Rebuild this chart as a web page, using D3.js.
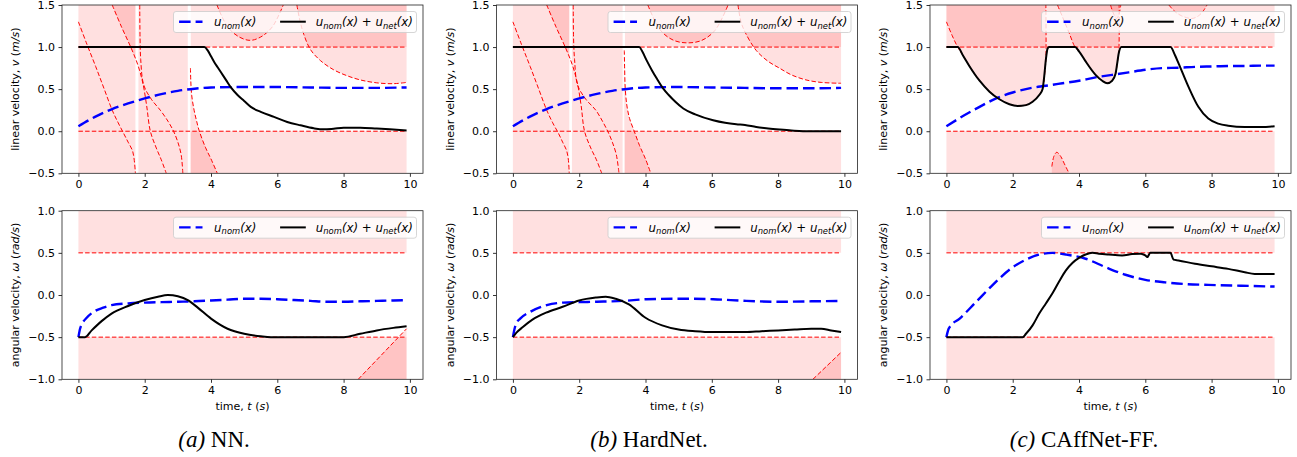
<!DOCTYPE html>
<html><head><meta charset="utf-8">
<script src="https://cdn.jsdelivr.net/npm/d3@7"></script>
<style>
body{margin:0;background:#fff}
svg text{font-family:"DejaVu Sans",sans-serif;fill:#000}
</style>
</head><body>
<svg id="fig" width="1297" height="457"></svg>
<script>
// ---------------- data ----------------
const T_DOMAIN = [-0.495, 10.395];
const T_END = 9.9;
const TIME_TICKS = [0, 2, 4, 6, 8, 10];
const V_TICKS = [-0.5, 0, 0.5, 1, 1.5];
const W_TICKS = [-1, -0.5, 0, 0.5, 1];
const V_BOUNDS = [0, 1];
const W_BOUNDS = [-0.5, 0.5];
const V_RANGE = [-0.5, 1.5];
const W_RANGE = [-1, 1];

// (a) NN — linear velocity
const a_vNom_t = [0,0.5,1,1.5,2,2.5,3,3.5,4,5,6,7,8,9,9.9];
const a_vNom   = [0.06,0.17,0.26,0.33,0.39,0.44,0.48,0.505,0.52,0.525,0.525,0.52,0.515,0.515,0.52];
const a_vNet_t = [0,3.8,3.9,4.0,4.1,4.2,4.3,4.45,4.6,4.8,5.0,5.2,5.5,5.9,6.3,6.7,7.1,7.4,7.7,8.0,8.5,9.0,9.5,9.9];
const a_vNet   = [1,1,0.96,0.89,0.82,0.76,0.7,0.61,0.52,0.43,0.36,0.29,0.23,0.17,0.11,0.07,0.035,0.022,0.03,0.042,0.042,0.032,0.02,0.01];
const a_strips = [[0,1.72],[1.81,3.3]];
const a_boundStart = 3.39;
const a_c1_t = [0,0.26,0.52,0.77,1.02,1.2,1.37,1.5,1.63,1.68,1.72];
const a_c1_v = [1.3,1.03,0.77,0.51,0.25,0.1,-0.03,-0.13,-0.23,-0.33,-0.5];
const a_c2_t = [1.02,1.3,1.6,1.8,1.95,2.06,2.17,2.35,2.5,2.65];
const a_c2_v = [1.5,1.24,0.98,0.78,0.56,0.3,0.0,-0.2,-0.34,-0.5];
const a_c3_t = [1.85,1.86,1.88,1.97,2.2,2.47,2.7,2.87,3.0,3.1,3.15];
const a_c3_v = [1.5,1.1,0.85,0.55,0.38,0.25,0.12,0.0,-0.13,-0.28,-0.5];
const a_c4_t = [3.38,3.39,3.42,3.49,3.56,3.64,3.83,4.0,4.19];
const a_c4_v = [0.75,0.6,0.42,0.25,0.13,0.01,-0.19,-0.33,-0.5];
const a_c5_t = [4.18,4.5,4.85,5.18,5.5,5.85,6.18];
const a_c5_v = [1.5,1.24,1.12,1.08,1.12,1.24,1.5];
const a_c6_t = [6.59,6.68,6.8,7.0,7.3,7.7,8.1,8.5,9.0,9.5,9.9];
const a_c6_v = [1.5,1.32,1.15,0.97,0.84,0.73,0.66,0.61,0.575,0.565,0.58];
// (a) NN — angular velocity
const a_wNom_t = [0,0.05,0.1,0.25,0.5,0.75,1,1.5,2,2.5,3,3.5,4,4.5,5,5.5,6,6.5,7,7.5,8,8.5,9,9.5,9.9];
const a_wNom   = [-0.5,-0.4,-0.35,-0.27,-0.19,-0.15,-0.12,-0.1,-0.09,-0.085,-0.08,-0.075,-0.065,-0.055,-0.045,-0.045,-0.05,-0.06,-0.07,-0.08,-0.08,-0.075,-0.07,-0.065,-0.06];
const a_wNet_t = [0,0.2,0.4,0.7,1.0,1.5,2.0,2.4,2.7,3.0,3.3,3.6,4.0,4.5,5.0,5.5,5.8,8.0,8.5,9.0,9.5,9.9];
const a_wNet   = [-0.5,-0.5,-0.42,-0.31,-0.22,-0.13,-0.06,-0.02,0,-0.015,-0.06,-0.15,-0.28,-0.4,-0.46,-0.49,-0.5,-0.5,-0.46,-0.42,-0.39,-0.37];
const a_c7_t = [8.44,9.9];
const a_c7_v = [-1.0,-0.4];

// (b) HardNet — linear velocity
const b_vNom_t = [0,0.5,1,1.5,2,2.5,3,3.5,4,5,6,7,8,9,9.9];
const b_vNom   = [0.06,0.17,0.26,0.33,0.39,0.44,0.48,0.505,0.52,0.525,0.52,0.515,0.51,0.51,0.515];
const b_vNet_t = [0,3.81,3.9,4.03,4.2,4.35,4.53,4.7,4.9,5.14,5.5,6.04,6.4,6.74,7.0,7.34,7.7,8.04,8.4,8.75,9.9];
const b_vNet   = [1,1,0.95,0.845,0.72,0.62,0.51,0.43,0.35,0.27,0.2,0.13,0.1,0.083,0.075,0.05,0.033,0.02,0.008,0,0];
const b_strips = [[0,1.70],[1.78,3.31]];
const b_boundStart = 3.38;
const b_c1_t = [0,0.26,0.52,0.77,1.02,1.2,1.38,1.5,1.62,1.67,1.70];
const b_c1_v = [1.3,1.03,0.77,0.51,0.25,0.1,-0.03,-0.13,-0.23,-0.33,-0.5];
const b_c2_t = [1.02,1.3,1.6,1.8,1.95,2.06,2.16,2.35,2.52,2.68];
const b_c2_v = [1.5,1.24,0.98,0.78,0.56,0.3,0.0,-0.2,-0.34,-0.5];
const b_c3_t = [1.82,1.83,1.86,1.95,2.2,2.5,2.7,2.86,3.0,3.12,3.2];
const b_c3_v = [1.5,1.1,0.85,0.55,0.38,0.25,0.12,0.0,-0.13,-0.28,-0.5];
const b_c4_t = [3.36,3.37,3.39,3.44,3.52,3.66,3.82,4.0,4.16];
const b_c4_v = [0.96,0.75,0.5,0.3,0.15,0.0,-0.17,-0.33,-0.5];
const b_c5_t = [4.07,4.45,4.85,5.28,5.7,6.1,6.49];
const b_c5_v = [1.5,1.2,1.08,1.05,1.08,1.2,1.5];
const b_c6_t = [6.79,6.88,7.0,7.34,7.7,8.04,8.4,8.84,9.3,9.9];
const b_c6_v = [1.5,1.3,1.18,0.96,0.83,0.75,0.67,0.61,0.58,0.57];
// (b) HardNet — angular velocity
const b_wNom_t = [0,0.05,0.1,0.22,0.52,1.02,1.52,2,2.53,3.33,4.03,5.04,6.04,7.04,8.04,9,9.9];
const b_wNom   = [-0.5,-0.4,-0.34,-0.28,-0.2,-0.12,-0.09,-0.085,-0.08,-0.07,-0.05,-0.044,-0.05,-0.07,-0.08,-0.075,-0.07];
const b_wNet_t = [0,0.1,0.3,0.6,1.0,1.5,2.0,2.5,2.8,3.1,3.5,4.0,4.5,5.0,5.5,6.0,7.0,7.5,8.0,8.5,9.0,9.3,9.6,9.9];
const b_wNet   = [-0.5,-0.45,-0.38,-0.29,-0.21,-0.14,-0.065,-0.03,-0.02,-0.045,-0.11,-0.27,-0.36,-0.41,-0.43,-0.44,-0.44,-0.43,-0.42,-0.41,-0.4,-0.4,-0.42,-0.44];
const b_c7_t = [9.05,9.9];
const b_c7_v = [-1.0,-0.68];

// (c) CAffNet-FF — linear velocity
const c_vNom_t = [0,0.5,1,1.5,2,2.5,3,3.5,4,4.5,5,5.5,6,6.5,7,7.5,8,8.5,9,9.5,9.9];
const c_vNom   = [0.06,0.18,0.29,0.39,0.46,0.51,0.54,0.57,0.6,0.64,0.67,0.7,0.73,0.75,0.755,0.765,0.77,0.775,0.775,0.78,0.78];
const c_vNet_t = [0,0.34,0.5,0.7,1.0,1.3,1.6,1.9,2.15,2.4,2.6,2.8,2.9,2.95,3.0,3.05,3.1,3.88,4.0,4.2,4.5,4.7,4.85,5.0,5.1,5.15,5.2,5.28,6.76,6.9,7.0,7.3,7.6,7.9,8.2,8.5,9.0,9.5,9.9];
const c_vNet   = [1,1,0.9,0.77,0.6,0.47,0.38,0.32,0.3,0.31,0.35,0.43,0.5,0.65,0.85,0.98,1,1,0.95,0.83,0.67,0.6,0.57,0.6,0.68,0.8,0.93,1,1,0.9,0.81,0.53,0.29,0.15,0.09,0.065,0.05,0.05,0.06];
const c_d1_t = [0,0.17,0.34,0.5,0.7,1.0,1.3,1.6,1.9,2.15,2.4,2.6,2.8,2.9,2.97,3.0,3.0];
const c_d1_v = [1.3,1.14,1.0,0.9,0.77,0.6,0.47,0.38,0.32,0.3,0.31,0.35,0.43,0.5,0.7,0.85,1.5];
const c_d2_t = [3.35,3.5,3.7,3.88,4.0,4.2,4.5,4.7,4.85,5.0,5.1,5.15,5.2,5.21];
const c_d2_v = [1.5,1.36,1.17,1.0,0.95,0.83,0.67,0.6,0.57,0.6,0.68,0.8,0.95,1.5];
const c_d3_t = [3.18,3.25,3.33,3.45,3.55,3.7];
const c_d3_v = [-0.42,-0.29,-0.25,-0.3,-0.38,-0.5];
const c_e1_t = [6.71,6.9,7.1,7.41,7.6,7.75,7.86];
const c_e1_v = [1.5,1.42,1.37,1.34,1.37,1.43,1.5];
const c_e2_t = [4.95,5.05,5.13,5.2,5.26];
const c_e2_v = [1.5,1.39,1.34,1.38,1.5];
// (c) CAffNet-FF — angular velocity
const c_wNom_t = [0,0.05,0.1,0.4,0.9,1.4,1.9,2.4,2.8,3.2,3.6,4.2,4.8,5.4,6.0,6.6,7.2,7.9,8.9,9.9];
const c_wNom   = [-0.5,-0.42,-0.38,-0.28,-0.08,0.12,0.3,0.42,0.48,0.5,0.48,0.43,0.33,0.24,0.18,0.15,0.13,0.12,0.11,0.1];
const c_wNet_t = [0,2.3,2.4,2.6,2.8,3.0,3.2,3.4,3.6,3.8,4.0,4.2,4.4,4.6,4.9,5.3,5.6,5.85,6.0,6.06,6.15,6.76,6.85,7.0,7.5,8.0,8.5,9.0,9.3,9.9];
const c_wNet   = [-0.5,-0.5,-0.46,-0.36,-0.22,-0.1,0.02,0.16,0.29,0.38,0.44,0.48,0.5,0.49,0.48,0.47,0.485,0.49,0.47,0.45,0.5,0.5,0.42,0.41,0.37,0.34,0.31,0.27,0.25,0.25];

const captions = [["(a)", " NN."], ["(b)", " HardNet."], ["(c)", " CAffNet-FF."]];

// ---------------- helpers ----------------
const pts = (ts, vs) => ts.map((t, i) => ({t, v: vs[i]}));
const band = (t0, t1, lo, hi) => [{t:t0, lo, hi}, {t:t1, lo, hi}];
const above = (ts, vs, top) => ts.map((t, i) => ({t, lo: vs[i], hi: top}));
const below = (ts, vs, bot) => ts.map((t, i) => ({t, lo: bot, hi: vs[i]}));
const hline = v => pts([0, T_END], [v, v]);

const fig = d3.select('#fig');
const defs = fig.append('defs');
let clipN = 0;
function clipRect(x0, y0, x1, y1) {
  const id = 'clip' + (clipN++);
  defs.append('clipPath').attr('id', id).append('rect')
    .attr('x', x0).attr('y', y0).attr('width', x1 - x0).attr('height', y1 - y0);
  return `url(#${id})`;
}
function rich(sel, parts) {
  parts.forEach(([s, it]) => { const ts = sel.append('tspan').text(s); if (it) ts.attr('font-style', 'italic'); });
}
function uTerm(t, sub) {
  t.append('tspan').attr('font-style', 'italic').text('u');
  t.append('tspan').attr('font-style', 'italic').attr('font-size', '8.4px').attr('dy', 2.7).text(sub);
  t.append('tspan').attr('font-style', 'italic').attr('dy', -2.7).text('(x)');
}

function drawAxes(o) {
  const x = d3.scaleLinear().domain(T_DOMAIN).range([o.x0, o.x1]);
  const y = d3.scaleLinear().domain(o.yDomain).range([o.y1, o.y0]);
  const g = fig.append('g');
  const plot = g.append('g').attr('clip-path', clipRect(o.x0, o.y0, o.x1, o.y1));
  const curve = d3.curveCatmullRom.alpha(0.5);
  const area = d3.area().x(d => x(d.t)).y0(d => y(d.lo)).y1(d => y(d.hi)).curve(curve);
  o.fills.forEach(f => {
    const p = plot.append('path').attr('d', area(f.pts))
      .attr('fill', 'rgb(255,0,0)').attr('fill-opacity', 0.12).attr('stroke', 'none');
    if (f.tRange) p.attr('clip-path', clipRect(x(f.tRange[0]), o.y0, x(f.tRange[1]), o.y1));
  });
  const dline = d3.line().x(d => x(d.t)).y(d => y(d.v)).curve(curve);
  o.dashes.forEach(d => {
    plot.append('path').attr('d', dline(d)).attr('fill', 'none')
      .attr('stroke', '#ff0000').attr('stroke-width', 1).attr('stroke-dasharray', '4.5,2.2');
  });
  const sline = d3.line().x(d => x(d.t)).y(d => y(d.v)).curve(d3.curveMonotoneX);
  plot.append('path').attr('d', sline(o.nom)).attr('fill', 'none')
    .attr('stroke', '#0000ff').attr('stroke-width', 2.4).attr('stroke-dasharray', '11.5,5');
  plot.append('path').attr('d', sline(o.net)).attr('fill', 'none')
    .attr('stroke', '#000').attr('stroke-width', 2).attr('stroke-linejoin', 'round');

  // axes
  const xa = g.append('g').attr('transform', `translate(0,${o.y1})`)
    .call(d3.axisBottom(x).tickValues(TIME_TICKS).tickSize(3.5).tickPadding(3.5).tickFormat(d3.format('d')));
  const ya = g.append('g').attr('transform', `translate(${o.x0},0)`)
    .call(d3.axisLeft(y).tickValues(o.yTicks).tickSize(3.5).tickPadding(3.5).tickFormat(d3.format('.1f')));
  [xa, ya].forEach(a => {
    a.select('.domain').remove();
    a.attr('font-family', '"DejaVu Sans",sans-serif').attr('font-size', 11);
    a.selectAll('line').attr('stroke', '#000').attr('stroke-width', 0.8);
  });
  g.append('rect').attr('x', o.x0).attr('y', o.y0).attr('width', o.x1 - o.x0).attr('height', o.y1 - o.y0)
    .attr('fill', 'none').attr('stroke', '#222').attr('stroke-width', 0.8);

  // y label
  const yl = g.append('text')
    .attr('transform', `translate(${o.x0 - 47},${(o.y0 + o.y1) / 2}) rotate(-90)`)
    .attr('text-anchor', 'middle').attr('dominant-baseline', 'central').attr('font-size', 11);
  rich(yl, o.ylabel);
  if (o.xlabel) {
    const xl = g.append('text').attr('x', (o.x0 + o.x1) / 2).attr('y', o.y1 + 31)
      .attr('text-anchor', 'middle').attr('font-size', 11);
    rich(xl, o.xlabel);
  }

  // legend
  const w = 243, h = 21, lx = o.x1 - 6.5 - w, ly = o.y0 + 6.5;
  g.append('rect').attr('x', lx).attr('y', ly).attr('width', w).attr('height', h).attr('rx', 2.5)
    .attr('fill', '#fff').attr('fill-opacity', 0.8).attr('stroke', '#cccccc').attr('stroke-width', 0.8);
  g.append('line').attr('x1', lx + 5.6).attr('x2', lx + 29).attr('y1', ly + 10.2).attr('y2', ly + 10.2)
    .attr('stroke', '#0000ff').attr('stroke-width', 2.4).attr('stroke-dasharray', '11.5,5');
  const t1 = g.append('text').attr('x', lx + 40.6).attr('y', ly + 14.3).attr('font-size', 11.8);
  uTerm(t1, 'nom');
  g.append('line').attr('x1', lx + 106.6).attr('x2', lx + 132.3).attr('y1', ly + 10.2).attr('y2', ly + 10.2)
    .attr('stroke', '#000').attr('stroke-width', 2);
  const t2 = g.append('text').attr('x', lx + 142.3).attr('y', ly + 14.3).attr('font-size', 11.8);
  uTerm(t2, 'nom'); t2.append('tspan').text(' + '); uTerm(t2, 'net');
}

// ---------------- layout table ----------------
const TOP = [5, 173.3], BOT = [210.7, 379.3];
const cols = [[62, 423], [496.5, 857.5], [930, 1291]];
const capX = [214, 649, 1084];
const V_LABEL = [['linear velocity, ', 0], ['v', 1], [' (', 0], ['m/s', 1], [')', 0]];
const W_LABEL = [['angular velocity, ', 0], ['ω', 1], [' (', 0], ['rad/s', 1], [')', 0]];
const T_LABEL = [['time, ', 0], ['t', 1], [' (', 0], ['s', 1], [')', 0]];

function stripFills(strips, bStart, c2t, c2v, c4t, c4v, c5t, c5v, c6t, c6v) {
  return [
    ...strips.map(s => ({pts: band(s[0], s[1], V_RANGE[0], V_RANGE[1])})),
    {pts: band(bStart, T_END, V_BOUNDS[1], V_RANGE[1])},
    {pts: band(bStart, T_END, V_RANGE[0], V_BOUNDS[0])},
    {pts: above(c2t, c2v, V_RANGE[1]), tRange: [0, strips[0][1]]},
    {pts: below(c4t, c4v, V_RANGE[0])},
    {pts: above(c5t, c5v, V_RANGE[1])},
    {pts: above(c6t, c6v, V_RANGE[1])}
  ];
}
const wFills = extra => [
  {pts: band(0, T_END, W_BOUNDS[1], W_RANGE[1])},
  {pts: band(0, T_END, W_RANGE[0], W_BOUNDS[0])},
  ...extra
];

const topPanels = [
  { fills: stripFills(a_strips, a_boundStart, a_c2_t, a_c2_v, a_c4_t, a_c4_v, a_c5_t, a_c5_v, a_c6_t, a_c6_v),
    dashes: [hline(1), hline(0), pts(a_c1_t,a_c1_v), pts(a_c2_t,a_c2_v), pts(a_c3_t,a_c3_v), pts(a_c4_t,a_c4_v), pts(a_c5_t,a_c5_v), pts(a_c6_t,a_c6_v)],
    nom: pts(a_vNom_t, a_vNom), net: pts(a_vNet_t, a_vNet) },
  { fills: stripFills(b_strips, b_boundStart, b_c2_t, b_c2_v, b_c4_t, b_c4_v, b_c5_t, b_c5_v, b_c6_t, b_c6_v),
    dashes: [hline(1), hline(0), pts(b_c1_t,b_c1_v), pts(b_c2_t,b_c2_v), pts(b_c3_t,b_c3_v), pts(b_c4_t,b_c4_v), pts(b_c5_t,b_c5_v), pts(b_c6_t,b_c6_v)],
    nom: pts(b_vNom_t, b_vNom), net: pts(b_vNet_t, b_vNet) },
  { fills: [
      {pts: band(0, T_END, V_BOUNDS[1], V_RANGE[1])},
      {pts: band(0, T_END, V_RANGE[0], V_BOUNDS[0])},
      {pts: above(c_d1_t, c_d1_v, V_RANGE[1])},
      {pts: above(c_d2_t, c_d2_v, V_RANGE[1])},
      {pts: below(c_d3_t, c_d3_v, V_RANGE[0])},
      {pts: above(c_e1_t, c_e1_v, V_RANGE[1])},
      {pts: above(c_e2_t, c_e2_v, V_RANGE[1])}
    ],
    dashes: [hline(1), hline(0), pts(c_d1_t,c_d1_v), pts(c_d2_t,c_d2_v), pts(c_d3_t,c_d3_v), pts(c_e1_t,c_e1_v), pts(c_e2_t,c_e2_v)],
    nom: pts(c_vNom_t, c_vNom), net: pts(c_vNet_t, c_vNet) }
];
const botPanels = [
  { fills: wFills([{pts: below(a_c7_t, a_c7_v, W_RANGE[0])}]),
    dashes: [hline(0.5), hline(-0.5), pts(a_c7_t, a_c7_v)],
    nom: pts(a_wNom_t, a_wNom), net: pts(a_wNet_t, a_wNet) },
  { fills: wFills([{pts: below(b_c7_t, b_c7_v, W_RANGE[0])}]),
    dashes: [hline(0.5), hline(-0.5), pts(b_c7_t, b_c7_v)],
    nom: pts(b_wNom_t, b_wNom), net: pts(b_wNet_t, b_wNet) },
  { fills: wFills([]),
    dashes: [hline(0.5), hline(-0.5)],
    nom: pts(c_wNom_t, c_wNom), net: pts(c_wNet_t, c_wNet) }
];

cols.forEach((c, i) => {
  drawAxes(Object.assign({x0: c[0], x1: c[1], y0: TOP[0], y1: TOP[1], yDomain: V_RANGE, yTicks: V_TICKS, ylabel: V_LABEL}, topPanels[i]));
  drawAxes(Object.assign({x0: c[0], x1: c[1], y0: BOT[0], y1: BOT[1], yDomain: W_RANGE, yTicks: W_TICKS, ylabel: W_LABEL, xlabel: T_LABEL}, botPanels[i]));
  const cap = fig.append('text').attr('x', capX[i]).attr('y', 447).attr('text-anchor', 'middle')
    .style('font-family', '"Liberation Serif","Times New Roman",serif').attr('font-size', 23);
  cap.append('tspan').attr('font-style', 'italic').text(captions[i][0]);
  cap.append('tspan').text(captions[i][1]);
});
</script>
</body></html>
